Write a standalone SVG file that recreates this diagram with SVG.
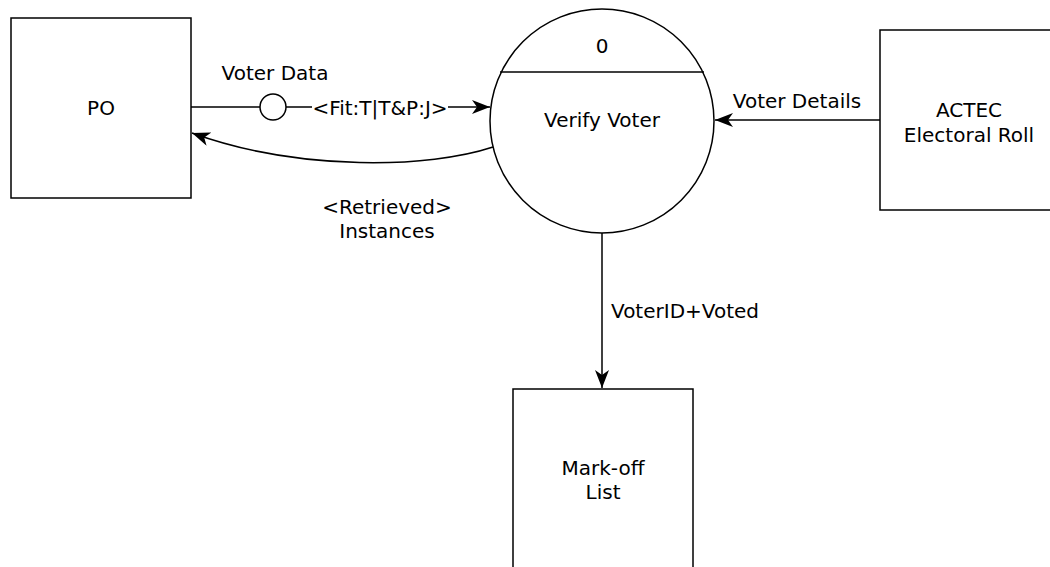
<svg xmlns="http://www.w3.org/2000/svg" width="1050" height="567" viewBox="0 0 1050 567">
  <style>
    .box { fill: #fff; stroke: #000; stroke-width: 1.5; }
    .flow { fill: none; stroke: #000; stroke-width: 1.5; }
    text { font-family: "DejaVu Sans", "Liberation Sans", sans-serif; font-size: 20px; fill: #000; text-anchor: middle; }
  </style>
  <defs>
    <marker id="arrow" viewBox="0 0 18 14" refX="18" refY="7" markerWidth="18" markerHeight="14" markerUnits="userSpaceOnUse" orient="auto">
      <path d="M0,0 L18,7 L0,14 L5,7 Z" fill="#000"/>
    </marker>
  </defs>
  <rect width="1050" height="567" fill="#fff"/>

  <!-- connectors -->
  <g id="connectors">
    <path class="flow" d="M191,107 L260,107 M286,107 L312,107"/>
    <circle class="flow" cx="273" cy="107" r="13" fill="#fff"/>
    <path class="flow" d="M448,107 L490,107" marker-end="url(#arrow)"/>
    <text x="275" y="80">Voter Data</text>
    <text x="380" y="115">&lt;Fit:T|T&amp;P:J&gt;</text>

    <path class="flow" d="M493,147 C430,168 300,172 192,133" marker-end="url(#arrow)"/>
    <text x="387" y="214">&lt;Retrieved&gt;</text>
    <text x="387" y="238">Instances</text>

    <path class="flow" d="M880,120 L715,120" marker-end="url(#arrow)"/>
    <text x="797" y="108">Voter Details</text>

    <path class="flow" d="M602,233 L602,388" marker-end="url(#arrow)"/>
    <text x="611" y="318" style="text-anchor:start">VoterID+Voted</text>
  </g>

  <!-- external entity: PO -->
  <g id="po">
    <rect class="box" x="11" y="18" width="180" height="180"/>
    <text x="101" y="115">PO</text>
  </g>

  <!-- process 0 -->
  <g id="verify-voter">
    <circle class="box" cx="602" cy="121" r="112"/>
    <line class="flow" x1="500" y1="72" x2="704" y2="72"/>
    <text x="602" y="53">0</text>
    <text x="602" y="127">Verify Voter</text>
  </g>

  <!-- external entity: ACTEC Electoral Roll -->
  <g id="actec">
    <rect class="box" x="880" y="30" width="180" height="180"/>
    <text x="969" y="117">ACTEC</text>
    <text x="969" y="142">Electoral Roll</text>
  </g>

  <!-- data store: Mark-off List -->
  <g id="mark-off-list">
    <rect class="box" x="513" y="389" width="180" height="190"/>
    <text x="603" y="475">Mark-off</text>
    <text x="603" y="499">List</text>
  </g>
</svg>
